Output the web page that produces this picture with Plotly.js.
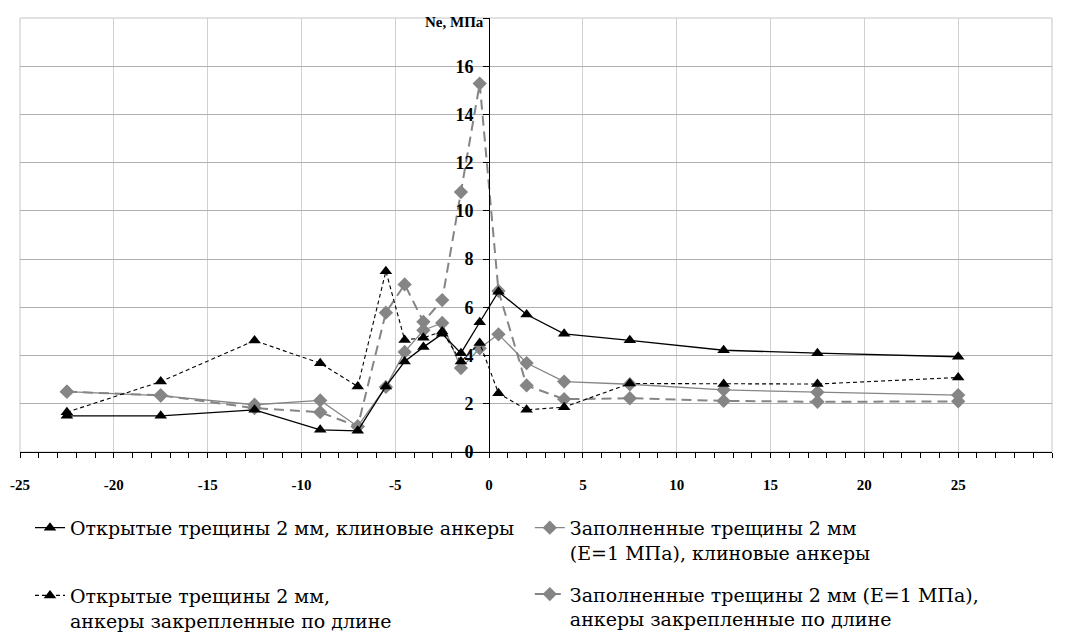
<!DOCTYPE html>
<html>
<head>
<meta charset="utf-8">
<script src="https://cdn.plot.ly/plotly-3.0.1.min.js"></script>
<style>
  html, body { margin: 0; padding: 0; background: #fff; }
  #chart { width: 1065px; height: 633px; }
</style>
</head>
<body>
<div id="chart"></div>
<script>
// Distance along the profile, m
const L = [-22.5, -17.5, -12.5, -9, -7, -5.5, -4.5, -3.5, -2.5, -1.5, -0.5, 0.5, 2, 4, 7.5, 12.5, 17.5, 25];

// Ne, MPa
const openWedge  = [1.5, 1.5, 1.75, 0.92, 0.88, 2.72, 3.75, 4.35, 4.9, 4.1, 5.38, 6.65, 5.7, 4.9, 4.63, 4.22, 4.1, 3.95];
const openFixed  = [1.65, 2.92, 4.62, 3.68, 2.72, 7.5, 4.65, 4.74, 5.0, 3.75, 4.52, 2.44, 1.75, 1.86, 2.84, 2.82, 2.82, 3.09];
const filledWedge = [2.5, 2.34, 1.96, 2.14, 1.06, 2.7, 4.15, 5.05, 5.35, 3.48, 4.3, 4.88, 3.69, 2.92, 2.81, 2.58, 2.48, 2.36];
const filledFixed = [2.5, 2.35, 1.82, 1.65, 1.06, 5.78, 6.95, 5.4, 6.3, 10.78, 15.28, 6.68, 2.76, 2.19, 2.23, 2.12, 2.08, 2.1];

const names = [
  'Открытые трещины 2 мм, клиновые анкеры',
  'Заполненные трещины 2 мм<br>(Е=1 МПа), клиновые анкеры',
  'Открытые трещины 2 мм,<br>анкеры закрепленные по длине',
  'Заполненные трещины 2 мм (Е=1 МПа),<br>анкеры закрепленные по длине'
];

const xTickVals = [-25, -20, -15, -10, -5, 0, 5, 10, 15, 20, 25, 30];
const xTickText = ['-25', '-20', '-15', '-10', '-5', '0', '5', '10', '15', '20', '25', ''];
const yTickVals = [0, 2, 4, 6, 8, 10, 12, 14, 16, 18];
const yTickText = ['0', '2', '4', '6', '8', '10', '12', '14', '16', ''];

const GRAY = '#858585';
const SERIF = 'Liberation Serif';
const LEGEND_FONT = { family: 'DejaVu Serif', size: 19, color: '#000' };

const traces = [
  {
    x: L, y: filledFixed, name: names[3], legend: 'legend2', legendgroup: 'd', legendrank: 2,
    type: 'scatter', mode: 'lines+markers',
    line: { color: GRAY, width: 2, dash: '10px,6px' },
    marker: { symbol: 'diamond', size: 11, color: GRAY }
  },
  {
    x: L, y: filledWedge, name: names[1], legend: 'legend2', legendgroup: 'c', legendrank: 1,
    type: 'scatter', mode: 'lines+markers',
    line: { color: GRAY, width: 1.3 },
    marker: { symbol: 'diamond', size: 11, color: GRAY }
  },
  {
    x: L, y: openFixed, name: names[2], legend: 'legend', legendgroup: 'b', legendrank: 2,
    type: 'scatter', mode: 'lines+markers',
    line: { color: '#000', width: 1.1, dash: '4px,3px' },
    marker: { symbol: 'triangle-up', size: 11, color: '#000' }
  },
  {
    x: L, y: openWedge, name: names[0], legend: 'legend', legendgroup: 'a', legendrank: 1,
    type: 'scatter', mode: 'lines+markers',
    line: { color: '#000', width: 1.3 },
    marker: { symbol: 'triangle-up', size: 11, color: '#000' }
  }
];

const layout = {
  width: 1065, height: 633,
  margin: { l: 20, r: 13, t: 18, b: 181, autoexpand: false },
  paper_bgcolor: '#fff', plot_bgcolor: '#fff',
  showlegend: true,
  xaxis: {
    range: [-25, 30], anchor: 'y',
    tickmode: 'array', tickvals: xTickVals, ticktext: xTickText,
    ticks: 'outside', ticklen: 5, tickcolor: '#000', tickwidth: 1,
    tickfont: { family: SERIF, size: 15, color: '#000', weight: 'bold' }, ticklabelstandoff: 14,
    minor: { tickmode: 'linear', tick0: 0, dtick: 1, ticks: 'outside', ticklen: 5, tickcolor: '#000', showgrid: false },
    showgrid: true, gridcolor: '#d0d0d0', gridwidth: 1,
    zeroline: false, showline: true, linecolor: '#000', linewidth: 1.3
  },
  xaxis2: {
    overlaying: 'x', matches: 'x', anchor: 'y', side: 'bottom',
    tickmode: 'array', tickvals: xTickVals,
    ticks: 'inside', ticklen: 5, tickcolor: '#000', tickwidth: 1,
    minor: { tickmode: 'linear', tick0: 0, dtick: 1, ticks: 'inside', ticklen: 5, tickcolor: '#000', showgrid: false },
    showticklabels: false, showgrid: false, zeroline: false, showline: false
  },
  yaxis: {
    range: [0, 18], anchor: 'free', position: 25 / 55,
    tickmode: 'array', tickvals: yTickVals, ticktext: yTickText,
    ticks: 'outside', ticklen: 6, tickcolor: '#000', tickwidth: 1,
    tickfont: { family: SERIF, size: 18, color: '#000', weight: 'bold' }, ticklabelstandoff: 6,
    showgrid: true, gridcolor: '#b0b0b0', gridwidth: 1,
    zeroline: false, showline: true, linecolor: '#000', linewidth: 1.3
  },
  shapes: [
    { type: 'rect', xref: 'paper', yref: 'paper', x0: 0, x1: 1, y0: 0, y1: 1,
      line: { color: '#c4c4c4', width: 1 }, layer: 'below' }
  ],
  annotations: [
    { text: 'Ne, МПа', xref: 'x', yref: 'y', x: 0, y: 17.85, xanchor: 'right', yanchor: 'middle',
      xshift: -3, showarrow: false, font: { family: SERIF, size: 15, color: '#000', weight: 'bold' } },
    { text: 'L, м', xref: 'x', yref: 'y', x: 28.8, y: -1.15, xanchor: 'left', yanchor: 'middle',
      showarrow: false, font: { family: SERIF, size: 15, color: '#000', weight: 'bold' } }
  ],
  legend: {
    orientation: 'v', x: 0.0097, xanchor: 'left', y: -0.131, yanchor: 'top',
    valign: 'top', traceorder: 'grouped', tracegroupgap: 40,
    font: LEGEND_FONT, bgcolor: 'rgba(0,0,0,0)', itemwidth: 30
  },
  legend2: {
    orientation: 'v', x: 0.494, xanchor: 'left', y: -0.131, yanchor: 'top',
    valign: 'top', traceorder: 'grouped', tracegroupgap: 14,
    font: LEGEND_FONT, bgcolor: 'rgba(0,0,0,0)', itemwidth: 30
  }
};

Plotly.newPlot('chart', traces, layout, { displayModeBar: false, staticPlot: true });
</script>
</body>
</html>
